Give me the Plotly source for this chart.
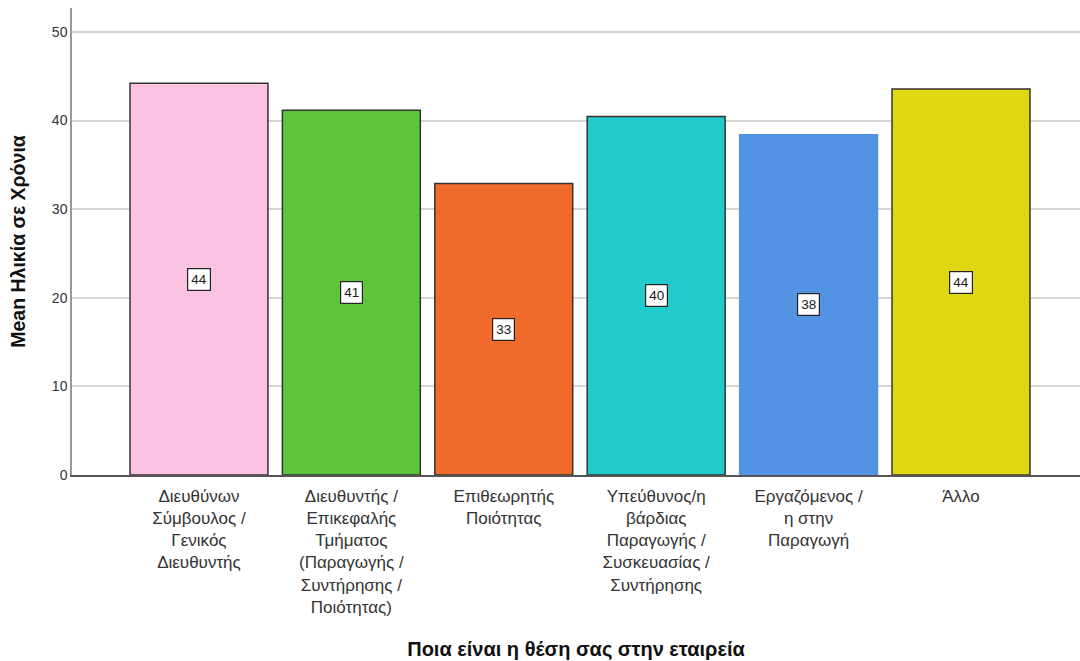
import plotly.graph_objects as go

# Mean age per job position
categories = [
    "Διευθύνων<br>Σύμβουλος /<br>Γενικός<br>Διευθυντής",
    "Διευθυντής /<br>Επικεφαλής<br>Τμήματος<br>(Παραγωγής /<br>Συντήρησης /<br>Ποιότητας)",
    "Επιθεωρητής<br>Ποιότητας",
    "Υπεύθυνος/η<br>βάρδιας<br>Παραγωγής /<br>Συσκευασίας /<br>Συντήρησης",
    "Εργαζόμενος /<br>η στην<br>Παραγωγή",
    "Άλλο",
]
mean_age = [44.2, 41.15, 32.9, 40.45, 38.4, 43.55]
y_ticks = [0, 10, 20, 30, 40, 50]

bar_colors = ["#FBC2E2", "#5EC43C", "#F06A2C", "#22CBCB", "#5393E3", "#E1D710"]
edge_colors = ["#333333", "#333333", "#333333", "#333333", "#5393E3", "#333333"]

x_idx = list(range(len(categories)))

fig = go.Figure(
    go.Bar(
        x=x_idx,
        y=mean_age,
        marker=dict(color=bar_colors, line=dict(color=edge_colors, width=1.5)),
        hoverinfo="skip",
    )
)

# Boxed value labels in the middle of each bar
for xi, v in zip(x_idx, mean_age):
    fig.add_annotation(
        x=xi, y=v / 2, text=f"{v:.0f}", showarrow=False,
        font=dict(family="Liberation Sans, Arial", size=13.5, color="#1a1a1a"),
        bgcolor="white", bordercolor="#222222", borderwidth=1.2, borderpad=3,
    )

fig.update_layout(
    width=1080, height=661,
    margin=dict(l=72, r=0, t=8, b=186),
    plot_bgcolor="white", paper_bgcolor="white",
    bargap=0.095,
    showlegend=False,
    font=dict(family="Liberation Sans, Arial", color="#222222"),
)

fig.update_xaxes(
    tickmode="array", tickvals=x_idx, ticktext=categories,
    range=[-0.833, 5.781],
    showgrid=False, zeroline=False,
    showline=True, linecolor="#555555", linewidth=1.5,
    ticks="outside", ticklen=5, tickcolor="rgba(0,0,0,0)",
    tickfont=dict(size=17, color="#333333"),
    tickangle=0,
    title=dict(text="<b>Ποια είναι η θέση σας στην εταιρεία</b>",
               font=dict(size=20, color="#111111"), standoff=26),
)

fig.update_yaxes(
    range=[0, 52.7],
    tickmode="array", tickvals=y_ticks,
    showgrid=True, gridcolor="#D4D4D4", gridwidth=1.5,
    zeroline=False,
    showline=True, linecolor="#999999", linewidth=1.5,
    tickfont=dict(size=14, color="#333333"),
    title=dict(text="<b>Mean Ηλικία σε Χρόνια</b>",
               font=dict(size=19.5, color="#111111"), standoff=21),
)

fig.write_html("out.html")
